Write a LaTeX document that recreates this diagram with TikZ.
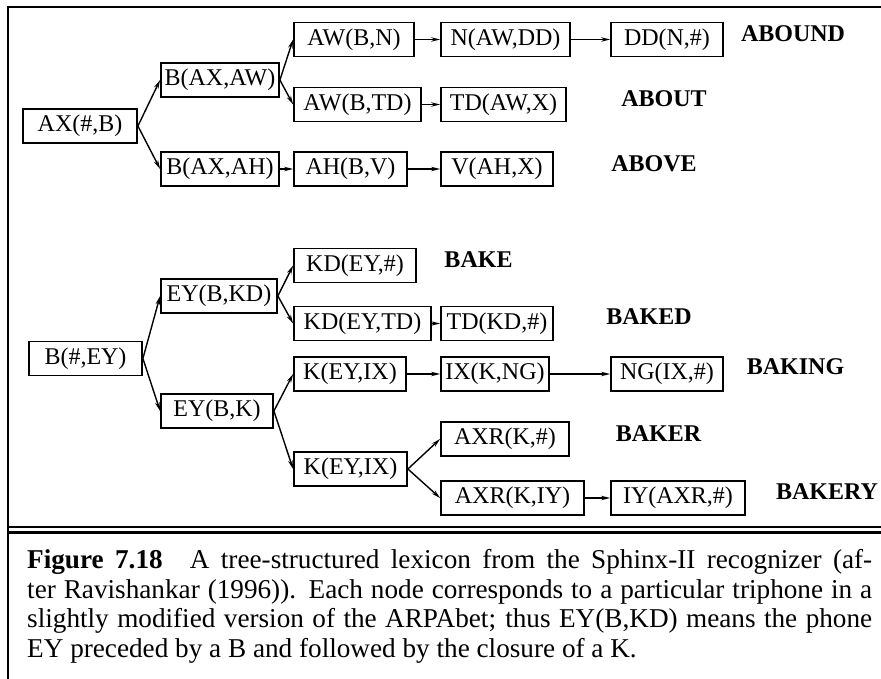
\documentclass[tikz,border=0pt]{standalone}
\usepackage{fontspec}
\setmainfont{Liberation Serif}
\usetikzlibrary{arrows.meta}

\begin{document}
\begin{tikzpicture}[x=1pt,y=-1pt,
    phone/.style={draw, line width=1.8pt, inner sep=0pt, minimum height=34pt, font=\fontsize{24}{28}\selectfont},
    word/.style={inner sep=0pt, font=\fontsize{24}{28}\selectfont\bfseries},
    link/.style={line width=1.4pt, -{Stealth[length=9pt,width=4.5pt]}}]
  \useasboundingbox (0,0) rectangle (881,679);
  % frame and rule above the caption
  \draw[line width=2.5pt] (8,679) -- (8,7) -- (881,7);
  \draw[line width=2.2pt] (8,527) -- (881,527);
  \draw[line width=2.2pt] (8,532.5) -- (881,532.5);

  % ABOUND, ABOUT, ABOVE
  \node[phone, minimum width=114pt] (ax) at (80,126) {AX(\#,B)};
  \node[phone, minimum width=118pt] (baw) at (220,80) {B(AX,AW)};
  \node[phone, minimum width=118pt] (bah) at (220,169) {B(AX,AH)};
  \node[phone, minimum width=120pt] (awn) at (354,39.5) {AW(B,N)};
  \node[phone, minimum width=127pt] (awtd) at (357.5,104.5) {AW(B,TD)};
  \node[phone, minimum width=113pt] (ahv) at (350.5,169) {AH(B,V)};
  \node[phone, minimum width=129pt] (nawdd) at (505.5,39.5) {N(AW,DD)};
  \node[phone, minimum width=112pt] (ddn) at (667,39.5) {DD(N,\#)};
  \node[phone, minimum width=125pt] (tdawx) at (503.5,104.5) {TD(AW,X)};
  \node[phone, minimum width=112pt] (vahx) at (497,169) {V(AH,X)};
  \node[word] (abound) at (793,33.5) {ABOUND};
  \node[word] (about) at (664,98.5) {ABOUT};
  \node[word] (above) at (654,163.5) {ABOVE};
  \draw[link] (ax.east) -- (baw.west);
  \draw[link] (ax.east) -- (bah.west);
  \draw[link] (baw.east) -- (awn.west);
  \draw[link] (baw.east) -- (awtd.west);
  \draw[link] (bah) -- (ahv);
  \draw[link] (awn) -- (nawdd);
  \draw[link] (nawdd) -- (ddn);
  \draw[link] (awtd) -- (tdawx);
  \draw[link] (ahv) -- (vahx);

  % BAKE, BAKED, BAKING, BAKER, BAKERY
  \node[phone, minimum width=113pt] (bey) at (85.5,358.5) {B(\#,EY)};
  \node[phone, minimum width=116pt] (eykd) at (219,296) {EY(B,KD)};
  \node[phone, minimum width=112pt] (eyk) at (217,411) {EY(B,K)};
  \node[phone, minimum width=122pt] (kdey) at (355,265.5) {KD(EY,\#)};
  \node[phone, minimum width=137pt] (kdeytd) at (362.5,323.5) {KD(EY,TD)};
  \node[phone, minimum width=112pt] (keyix) at (350,374) {K(EY,IX)};
  \node[phone, minimum width=112pt] (tdkd) at (497,323.5) {TD(KD,\#)};
  \node[phone, minimum width=108pt] (ixkng) at (495,374) {IX(K,NG)};
  \node[phone, minimum width=112pt] (ngix) at (667,374) {NG(IX,\#)};
  \node[phone, minimum width=113pt] (keyixb) at (350.5,469) {K(EY,IX)};
  \node[phone, minimum width=128pt] (axrk) at (505,439) {AXR(K,\#)};
  \node[phone, minimum width=143pt] (axrkiy) at (512.5,498) {AXR(K,IY)};
  \node[phone, minimum width=134pt] (iyaxr) at (678,498) {IY(AXR,\#)};
  \node[word] (bake) at (478.5,260) {BAKE};
  \node[word] (baked) at (649,317) {BAKED};
  \node[word] (baking) at (795.5,366.5) {BAKING};
  \node[word] (baker) at (658.5,433.5) {BAKER};
  \node[word] (bakery) at (827,491.5) {BAKERY};
  \draw[link] (bey.east) -- (eykd.west);
  \draw[link] (bey.east) -- (eyk.west);
  \draw[link] (eykd.east) -- (kdey.west);
  \draw[link] (eykd.east) -- (kdeytd.west);
  \draw[link] (eyk.east) -- (keyix.west);
  \draw[link] (eyk.east) -- (keyixb.west);
  \draw[link] (kdeytd) -- (tdkd);
  \draw[link] (keyix) -- (ixkng);
  \draw[link] (ixkng) -- (ngix);
  \draw[link] (keyixb.east) -- (axrk.west);
  \draw[link] (keyixb.east) -- (axrkiy.west);
  \draw[link] (axrkiy) -- (iyaxr);

  % caption
  \node[anchor=north west, inner sep=0pt, text width=845pt, align=justify,
    font=\fontsize{27.2}{29.5}\selectfont] (caption) at (27,549.5)
    {\textbf{Figure 7.18}\quad A tree-structured lexicon from the Sphinx-II recognizer (af-\linebreak
     ter Ravishankar (1996)). Each node corresponds to a particular triphone in a\linebreak
     slightly modified version of the ARPAbet; thus EY(B,KD) means the phone\linebreak
     EY preceded by a B and followed by the closure of a K.};
\end{tikzpicture}
\end{document}
